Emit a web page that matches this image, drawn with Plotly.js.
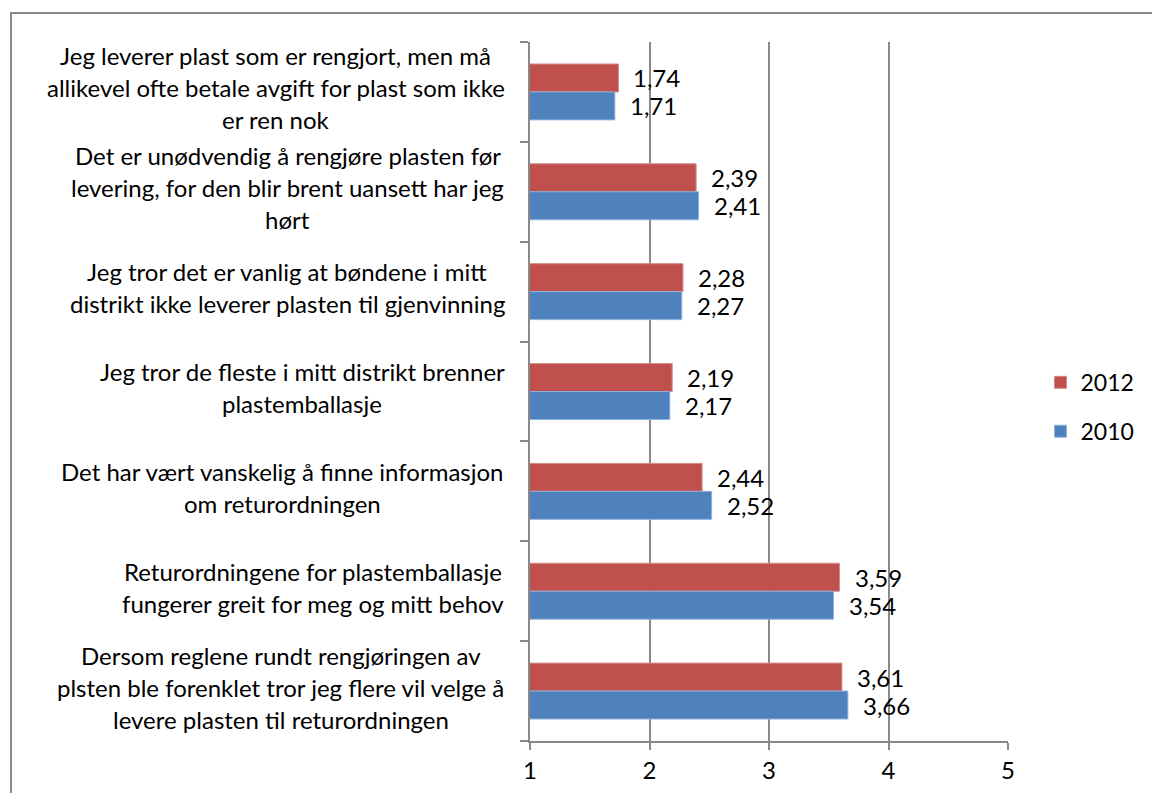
<!DOCTYPE html>
<html>
<head>
<meta charset="utf-8">
<script src="https://cdn.plot.ly/plotly-3.0.1.min.js"></script>
<style>
    html, body { margin: 0; padding: 0; overflow: hidden; background: #fff; }
    #chart { width: 1152px; height: 793px; }
    #frame { position: absolute; left: 10px; top: 12px; width: 1300px; height: 900px;
             border: 2px solid #8a8a8a; pointer-events: none; }
</style>
</head>
<body>
<div id="chart"></div>
<div id="frame"></div>
<script>
// --- DADES ---
const categories = [
    'Jeg leverer plast som er rengjort, men må<br>allikevel ofte betale avgift for plast som ikke<br>er ren nok',
    'Det er unødvendig å rengjøre plasten før<br>levering, for den blir brent uansett har jeg<br>hørt',
    'Jeg tror det er vanlig at bøndene i mitt<br>distrikt ikke leverer plasten til gjenvinning',
    'Jeg tror de fleste i mitt distrikt brenner<br>plastemballasje',
    'Det har vært vanskelig å finne informasjon<br>om returordningen',
    'Returordningene for plastemballasje<br>fungerer greit for meg og mitt behov',
    'Dersom reglene rundt rengjøringen av<br>plsten ble forenklet tror jeg flere vil velge å<br>levere plasten til returordningen'
];
const values2012 = [1.74, 2.39, 2.28, 2.19, 2.44, 3.59, 3.61];
const values2010 = [1.71, 2.41, 2.27, 2.17, 2.52, 3.54, 3.66];
const xTicks = [1, 2, 3, 4, 5];

const red = '#C0504D';
const blue = '#4F81BD';
const gray = '#898989';
const fontFamily = 'Lato, "Open Sans", sans-serif';
const labelSize = 24;
const lineGap = 32;

// plot area in pixels
const W = 1152, H = 793;
const margin = { l: 530, r: 140, t: 42, b: 52 };
const plotW = W - margin.l - margin.r;
const labelRight = 503;

const idx = categories.map((_, i) => i);
const fmt = v => v.toFixed(2).replace('.', ',');

// mesura l'amplada del text per centrar les línies
const ctx = document.createElement('canvas').getContext('2d');
ctx.font = labelSize + 'px Lato';

const annotations = [];
categories.forEach((cat, i) => {
    const lines = cat.split('<br>');
    const maxW = Math.max(...lines.map(l => ctx.measureText(l).width));
    const cx = labelRight - maxW / 2;
    lines.forEach((line, j) => {
        annotations.push({
            xref: 'paper', yref: 'y',
            x: (cx - margin.l) / plotW, y: i,
            xanchor: 'center', yanchor: 'middle',
            yshift: 4 - (j - (lines.length - 1) / 2) * lineGap,
            text: line, showarrow: false,
            font: { family: fontFamily, size: labelSize, color: '#000' }
        });
    });
});

function valueLabels(values, offset) {
    values.forEach((v, i) => {
        annotations.push({
            xref: 'x', yref: 'y', x: v, y: i + offset,
            xanchor: 'left', yanchor: 'middle', xshift: 13,
            text: fmt(v), showarrow: false,
            font: { family: fontFamily, size: labelSize, color: '#000' }
        });
    });
}
valueLabels(values2012, -0.14);
valueLabels(values2010, 0.14);

const traces = [
    {
        type: 'bar', orientation: 'h', name: '2012', legendgroup: 'a',
        x: values2012, y: idx,
        marker: { color: red, line: { color: '#d48a88', width: 1 } },
        hoverinfo: 'x'
    },
    {
        type: 'bar', orientation: 'h', name: '2010', legendgroup: 'b',
        x: values2010, y: idx,
        marker: { color: blue, line: { color: '#8fb0d8', width: 1 } },
        hoverinfo: 'x'
    }
];

const layout = {
    width: W, height: H,
    margin: margin,
    barmode: 'group',
    bargap: 0.44,
    bargroupgap: 0,
    paper_bgcolor: '#fff',
    plot_bgcolor: '#fff',
    font: { family: fontFamily, size: labelSize, color: '#000' },
    xaxis: {
        range: [1, 5], tickvals: xTicks, ticktext: xTicks.map(String),
        showgrid: true, gridcolor: gray, gridwidth: 2,
        showline: true, linecolor: gray, linewidth: 2,
        ticks: 'outside', ticklen: 7, tickcolor: gray, tickwidth: 2,
        zeroline: false,
        tickfont: { family: fontFamily, size: 24, color: '#000' }
    },
    yaxis: {
        type: 'linear', range: [6.5, -0.5],
        tickvals: idx.map(i => i - 0.5).concat([6.5]),
        showticklabels: false,
        showgrid: false, zeroline: false,
        showline: true, linecolor: gray, linewidth: 2,
        ticks: 'outside', ticklen: 8, tickcolor: gray, tickwidth: 2
    },
    legend: {
        x: 1.068, y: 0.478, xanchor: 'left', yanchor: 'middle',
        traceorder: 'grouped', tracegroupgap: 16,
        font: { size: 23 }
    },
    annotations: annotations
};

Plotly.newPlot('chart', traces, layout, { displayModeBar: false });
</script>
</body>
</html>
